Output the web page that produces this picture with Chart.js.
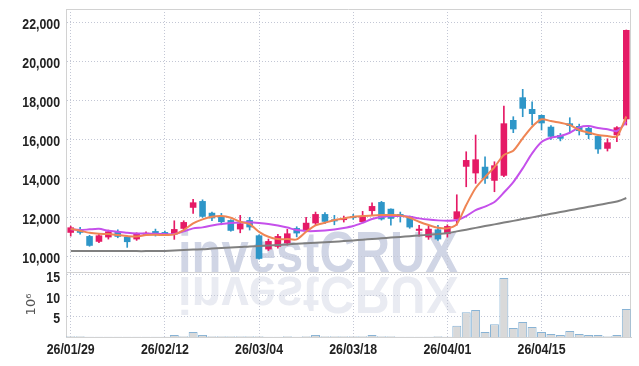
<!DOCTYPE html>
<html><head><meta charset="utf-8">
<script src="https://cdn.jsdelivr.net/npm/chart.js@4.4.1/dist/chart.umd.min.js"></script>
<style>html,body{margin:0;padding:0;background:#fff}#wrap{position:relative;width:639px;height:366px}</style>
</head><body><div id="wrap"><canvas id="c"></canvas></div>
<script>
const dates = ['26/01/29','26/01/30','26/02/02','26/02/03','26/02/04','26/02/05','26/02/06','26/02/09','26/02/10','26/02/11','26/02/12','26/02/13','26/02/19','26/02/20','26/02/23','26/02/24','26/02/25','26/02/26','26/02/27','26/03/03','26/03/04','26/03/05','26/03/06','26/03/09','26/03/10','26/03/11','26/03/12','26/03/13','26/03/16','26/03/17','26/03/18','26/03/19','26/03/20','26/03/23','26/03/24','26/03/25','26/03/26','26/03/27','26/03/30','26/03/31','26/04/01','26/04/02','26/04/03','26/04/06','26/04/07','26/04/08','26/04/09','26/04/10','26/04/13','26/04/14','26/04/15','26/04/16','26/04/17','26/04/20','26/04/21','26/04/22','26/04/23','26/04/24','26/04/27','26/04/28'];
const tickDates = ['26/01/29','26/02/12','26/03/04','26/03/18','26/04/01','26/04/15'];
const priceTicks = [10000,12000,14000,16000,18000,20000,22000];
const volTicks = [5,10,15];

const open  = [11210,11400,11041,10749,10974,11297,11005,10872,11108,11297,11246,11128,11415,12492,12836,12236,12067,11861,11385,11861,11077,10359,10492,10667,11451,11313,11692,12169,11897,11861,12067,11759,12323,12785,12441,12169,12067,11313,10974,11385,11143,11897,14595,14256,14595,13877,14133,16990,18154,17554,17246,16646,16220,16820,16682,16579,16169,15518,16205,17026];
const high  = [11554,11487,11080,11128,11349,11364,11030,11210,11260,11400,11300,11826,11826,12923,12900,12272,12205,11880,12102,12000,11100,10890,11128,11385,11520,12000,12272,12240,12102,12067,12160,12308,12749,12820,12441,12272,12067,11590,11554,11590,11620,13159,15364,16220,15108,14851,17708,17160,18564,17928,17246,16700,16300,17108,16780,16680,16169,16030,16650,21605];
const low   = [11041,11143,10520,10697,10887,10954,10462,10820,11060,11041,11060,10872,11349,12205,12000,11826,11620,11290,11210,11349,9860,10300,10420,10580,11000,11262,11590,11680,11620,11759,11897,11723,12118,11860,11605,11759,11440,11041,10872,10820,10990,11600,13569,13744,13744,13313,14082,16340,17159,16733,16477,15990,15920,16390,16220,16030,15282,15400,15877,16733];
const close = [11487,11210,10544,11077,11282,11005,10733,11159,11210,11092,11108,11400,11759,12769,12031,11949,11759,11313,11692,11487,9877,10785,11041,11179,11179,11723,12169,11774,11795,11964,11964,12067,12580,11897,11928,12031,11487,11415,11415,10872,11554,12308,14938,14974,13979,14667,16820,16513,17569,17297,16820,16133,16031,16682,16425,16220,15487,15846,16615,21605];
const ma5  = [11415,11313,11210,11159,11144,11092,11041,11015,11092,11108,11092,11128,11349,11692,11897,12031,12067,11979,11774,11656,11260,11005,10887,10887,10870,11260,11590,11723,11861,11949,12031,12067,12102,12118,12118,12102,11979,11774,11605,11467,11436,11656,12631,13502,14067,14579,15195,15415,16051,16646,17025,16938,16851,16733,16477,16338,16220,16169,16143,17170];
const ma10 = [11385,11349,11385,11415,11313,11261,11210,11179,11179,11159,11144,11144,11282,11436,11487,11579,11656,11708,11733,11744,11708,11656,11579,11477,11349,11297,11297,11323,11374,11451,11554,11723,11913,12031,12067,12067,12031,11949,11887,11846,11826,11861,12067,12374,12554,12785,13272,13810,14513,15282,15861,16082,16169,16338,16615,16682,16579,16513,16425,16887];
const ma60 = [10270,10270,10270,10270,10270,10270,10270,10270,10270,10272,10282,10297,10323,10349,10364,10400,10426,10451,10477,10513,10528,10554,10579,10615,10646,10672,10697,10723,10754,10785,10820,10856,10892,10928,10964,11000,11036,11072,11108,11144,11195,11282,11369,11461,11554,11641,11733,11820,11913,12000,12092,12185,12272,12364,12451,12543,12631,12723,12810,12990];
const volume = [0.2,0.2,0.05,0.05,0.05,0.05,0.05,0.05,0.05,0.05,0.05,0.5,0.2,1.2,0.5,0.2,0.2,0.2,0.2,0.2,0.2,0.05,0.05,0.2,0.05,0.2,0.5,0.2,0.2,0.2,0.2,0.2,0.5,0.2,0.2,0.05,0.05,0.05,0.05,0.2,0.05,2.7,6.0,6.5,1.2,3.1,14.25,2.2,3.6,2.4,1.2,0.7,0.5,1.45,0.7,0.5,0.5,0.2,0.5,6.75];

const RED = '#e51a66', BLUE = '#2e96c8';
const GRID = '#c3c7d5', BORDER = '#d2d2d2';
const LABEL_FONT = "bold 15px 'Liberation Sans', Arial, sans-serif";
const candleColors = close.map((c, i) => c >= open[i] ? RED : BLUE);

const watermark = {
  id: 'wm',
  beforeDraw(chart) {
    const ctx = chart.ctx;
    const text = 'investCRUX';
    ctx.save();
    ctx.font = "bold 57px 'Liberation Sans', Arial, sans-serif";
    ctx.textBaseline = 'alphabetic';
    const w = ctx.measureText(text).width;
    const sx = 280 / w, x0 = 178, base = 272;
    ctx.save();
    ctx.translate(x0, base + 5);
    ctx.scale(sx, -0.9);
    ctx.fillStyle = '#e9ebf2';
    ctx.fillText(text, 0, 0);
    ctx.restore();
    ctx.save();
    ctx.translate(x0, base);
    ctx.scale(sx, 1);
    ctx.fillStyle = '#d0d5e5';
    ctx.fillText(text, 0, 0);
    ctx.restore();
    ctx.restore();
  }
};
const frame = {
  id: 'frame',
  beforeDatasetsDraw(chart) {
    const {ctx, chartArea: a} = chart;
    const sy = Math.round(chart.scales.yv.top) + 0.5;
    ctx.save();
    ctx.strokeStyle = BORDER;
    ctx.lineWidth = 1;
    ctx.beginPath();
    ctx.moveTo(a.left, Math.round(a.top) + 0.5); ctx.lineTo(a.right, Math.round(a.top) + 0.5);
    ctx.moveTo(Math.round(a.right) - 0.5, a.top); ctx.lineTo(Math.round(a.right) - 0.5, a.bottom);
    ctx.moveTo(a.left, sy); ctx.lineTo(a.right, sy);
    ctx.stroke();
    ctx.restore();
  }
};
// draws the scales' own tick labels in a condensed style
const tickLabels = {
  id: 'tickLabels',
  afterDraw(chart) {
    const ctx = chart.ctx;
    ctx.save();
    ctx.font = LABEL_FONT;
    ctx.fillStyle = '#222';
    ctx.textBaseline = 'alphabetic';
    const sx = 48 / ctx.measureText('26/01/29').width;
    const draw = (txt, x, y, align) => {
      ctx.save(); ctx.translate(x, y); ctx.scale(sx, 1);
      ctx.textAlign = align; ctx.fillText(txt, 0, 0); ctx.restore();
    };
    const xs = chart.scales.x;
    xs.ticks.forEach((t, i) => draw(t.label, xs.getPixelForTick(i), xs.top + 17, 'center'));
    ['y', 'yv'].forEach(id => {
      const s = chart.scales[id];
      s.ticks.forEach((t, i) => draw(t.label, s.right - 6, s.getPixelForTick(i) + 7, 'right'));
    });
    ctx.restore();
  }
};

new Chart(document.getElementById('c'), {
  type: 'bar',
  data: {
    labels: dates,
    datasets: [
      {type: 'line', label: 'MA5', data: ma5, borderColor: '#ef8554', borderWidth: 2, pointRadius: 0, tension: 0.25, yAxisID: 'y', order: 0},
      {type: 'line', label: 'MA10', data: ma10, borderColor: '#c550eb', borderWidth: 2, pointRadius: 0, tension: 0.25, yAxisID: 'y', order: 0},
      {type: 'line', label: 'MA60', data: ma60, borderColor: '#808080', borderWidth: 2, pointRadius: 0, tension: 0.25, yAxisID: 'y', order: 0},
      {label: 'body', data: open.map((o, i) => [o, close[i]]), backgroundColor: candleColors, barPercentage: 0.7, categoryPercentage: 1, grouped: false, yAxisID: 'y', order: 1},
      {label: 'wick', data: low.map((l, i) => [l, high[i]]), backgroundColor: candleColors, barThickness: 1, grouped: false, yAxisID: 'y', order: 2},
      {label: 'volume', data: volume, backgroundColor: '#d9d9d9', borderColor: '#88b3d5', borderWidth: 1, barPercentage: 1, categoryPercentage: 0.95, grouped: false, yAxisID: 'yv', order: 3}
    ]
  },
  options: {
    responsive: true, maintainAspectRatio: false, animation: false, devicePixelRatio: 1,
    layout: {padding: {left: 22, right: 8, top: 9, bottom: 0}},
    plugins: {legend: {display: false}, tooltip: {enabled: false}},
    scales: {
      x: {
        offset: true,
        grid: {color: GRID, offset: false, drawTicks: false},
        border: {display: true, color: BORDER, dash: [1, 2]},
        ticks: {display: false, autoSkip: false, maxRotation: 0},
        afterBuildTicks: s => { s.ticks = s.ticks.filter(t => tickDates.includes(dates[t.value])); },
        afterFit: s => { s.height = 29; }
      },
      yv: {
        stack: 'main', stackWeight: 65, min: 0, max: 15.7,
        grid: {color: GRID, drawTicks: false},
        border: {display: true, color: BORDER, dash: [1, 2]},
        ticks: {display: false, autoSkip: false},
        title: {display: true, text: '10\u2076', color: '#555', font: {family: 'DejaVu Sans', size: 13}, padding: {top: 2, bottom: 2}},
        afterBuildTicks: s => { s.ticks = volTicks.map(v => ({value: v})); },
        afterFit: s => { s.width = 44; }
      },
      y: {
        stack: 'main', stackWeight: 263, min: 9200, max: 22680,
        grid: {color: GRID, drawTicks: false},
        border: {display: true, color: BORDER, dash: [1, 2]},
        ticks: {display: false, autoSkip: false},
        afterBuildTicks: s => { s.ticks = priceTicks.map(v => ({value: v})); },
        afterFit: s => { s.width = 44; }
      }
    }
  },
  plugins: [watermark, frame, tickLabels]
});
</script></body></html>
